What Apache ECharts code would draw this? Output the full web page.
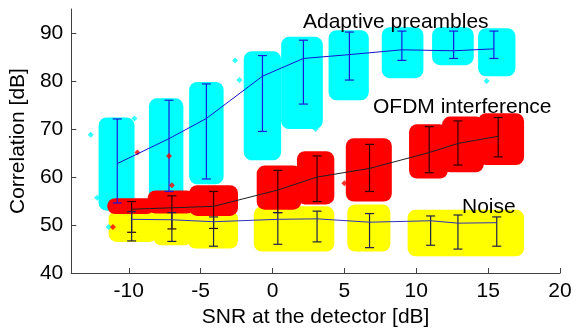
<!DOCTYPE html>
<html>
<head>
<meta charset="utf-8">
<script src="https://cdn.jsdelivr.net/npm/echarts@6/dist/echarts.min.js"></script>
<style>
  html, body { margin: 0; padding: 0; background: #fff; }
  #chart { width: 576px; height: 333px; }
</style>
</head>
<body>
<div id="chart"></div>
<script>
// axis ticks
const xTicks = [-10, -5, 0, 5, 10, 15, 20]
const yTicks = [40, 50, 60, 70, 80, 90]

// point clouds, each [xFrom, xTo, yFrom, yTo]
const cyanClouds = [
  [-12.1, -9.6, 53, 72.4], [-8.6, -6.2, 54, 76.4], [-5.8, -3.4, 58.5, 79.8],
  [-2.0, 0.6, 63.5, 86.2], [0.6, 3.5, 70, 89.2], [3.9, 6.7, 76, 90.6],
  [7.6, 10.5, 80.6, 91.2], [11.1, 14.0, 83.3, 91.2], [14.3, 16.9, 81, 91.0]
]
const yellowClouds = [
  [-11.4, -8.0, 46.5, 53], [-8.3, -5.6, 45.8, 53], [-5.9, -2.4, 45.1, 53],
  [-1.3, 4.3, 44.5, 53.9], [5.2, 8.2, 44.5, 54.3], [9.4, 17.5, 43.5, 53.2]
]
const redClouds = [
  [-11.5, -8.2, 52.3, 55.6], [-8.7, -5.4, 52.4, 57.2], [-5.8, -2.4, 51.9, 58.3],
  [-1.1, 2.0, 53.2, 62.4], [1.7, 4.3, 54.3, 65.4], [5.1, 8.3, 54.9, 68.1],
  [9.5, 12.2, 59.7, 71.0], [11.8, 14.7, 61.0, 72.6], [14.3, 17.5, 62.5, 73.3]
]

// stray points
const cyanStray = [[-12.65, 68.8], [-12.2, 55.7], [-11.4, 49.6], [-9.6, 72.2], [-2.6, 84.3],
  [-2.3, 80.2], [0.8, 71.9], [3.0, 70], [-1.5, 64], [2.9, 70.5], [14.9, 80], [16.4, 82.2]]
const redStray = [[-9.4, 65.1], [-7.2, 64.4], [-7.0, 58.3], [-11.1, 49.6], [5.0, 58.7],
  [9.8, 69.9], [15.0, 63.4]]

// Adaptive preambles
const cyanX = [-10.8, -7.2, -4.6, -0.7, 2.15, 5.35, 9.0, 12.6, 15.4]
const cyanMean = [62.8, 68, 72.2, 81, 84.7, 85.5, 86.5, 86.3, 86.7]
const cyanLow = [54.6, 57, 59.6, 69.5, 75.2, 80.2, 84.3, 84.7, 84.7]
const cyanHigh = [72.1, 76, 79.4, 85.3, 88.5, 90.2, 90.4, 90.4, 90.4]

// OFDM interference
const redX = [-9.8, -7.0, -4.1, 0.37, 3.1, 6.75, 10.9, 12.9, 15.7]
const redMean = [53.3, 53.6, 53.9, 57.3, 60, 61.8, 65.1, 67, 68.5]
const redLow = [48.5, 49.2, 49.3, 52.6, 54.9, 57, 60.9, 62.5, 64.2]
const redHigh = [54.9, 56.1, 57, 61.4, 64.4, 66.8, 70.5, 71.7, 72.4]

// Noise
const yellowX = [-9.8, -7.0, -4.1, 0.37, 3.1, 6.75, 11.0, 12.9, 15.6]
const yellowMean = [51.2, 51.1, 50.7, 51.2, 51.3, 50.6, 50.9, 50.4, 50.5]
const yellowLow = [46.7, 46.6, 45.6, 46, 46.5, 45.3, 45.8, 45, 45.6]
const yellowHigh = [52.8, 52.6, 51.7, 52.6, 52.9, 52.4, 51.9, 52.1, 51.7]

const font = "'Liberation Sans', Arial, sans-serif"

const cloudItem = (params, api) => {
  const a = api.coord([api.value(0), api.value(3)])
  const b = api.coord([api.value(1), api.value(2)])
  return {
    type: "rect",
    shape: { x: a[0], y: a[1], width: b[0] - a[0], height: b[1] - a[1], r: 8 },
    style: { fill: api.visual("color") },
  }
}

const barItem = (params, api) => {
  const lo = api.coord([api.value(0), api.value(1)])
  const hi = api.coord([api.value(0), api.value(2)])
  const stroke = { stroke: api.visual("color"), lineWidth: 1.2 }
  return {
    type: "group",
    children: [
      { type: "line", shape: { x1: lo[0], y1: lo[1], x2: hi[0], y2: hi[1] }, style: stroke },
      { type: "line", shape: { x1: lo[0] - 4.5, y1: lo[1], x2: lo[0] + 4.5, y2: lo[1] }, style: stroke },
      { type: "line", shape: { x1: hi[0] - 4.5, y1: hi[1], x2: hi[0] + 4.5, y2: hi[1] }, style: stroke },
    ],
  }
}

const cloud = (data, color) => ({
  type: "custom", renderItem: cloudItem, data, color, silent: true,
  encode: { x: [0, 1], y: [2, 3] },
})
const stray = (data, color) => ({
  type: "scatter", data, color, symbol: "diamond", symbolSize: 6, silent: true,
})
const meanLine = (xs, ys, color) => ({
  type: "line", data: xs.map((x, i) => [x, ys[i]]), color, symbol: "none",
  lineStyle: { width: 1, color }, silent: true,
})
const errBars = (xs, lo, hi, color) => ({
  type: "custom", renderItem: barItem, color, silent: true,
  data: xs.map((x, i) => [x, lo[i], hi[i]]),
  encode: { x: 0, y: [1, 2] },
})

const chart = echarts.init(document.getElementById("chart"), null, { renderer: "canvas" })

chart.setOption({
  animation: false,
  backgroundColor: "#fff",
  grid: { left: 70, right: 16, top: 9, bottom: 53 },
  xAxis: {
    type: "value", min: -14, max: 20,
    name: "SNR at the detector [dB]", nameLocation: "middle", nameGap: 25,
    nameTextStyle: { fontFamily: font, fontSize: 21, color: "#000" },
    axisLine: { onZero: false, lineStyle: { color: "#404040", width: 1 } },
    axisTick: { inside: true, length: 5, customValues: xTicks, lineStyle: { color: "#404040" } },
    axisLabel: { customValues: xTicks, fontFamily: font, fontSize: 21, color: "#000", margin: 8 },
    splitLine: { show: false },
  },
  yAxis: {
    type: "value", min: 40, max: 95,
    name: "Correlation [dB]", nameLocation: "middle", nameGap: 38,
    nameTextStyle: { fontFamily: font, fontSize: 21, color: "#000" },
    axisLine: { show: true, onZero: false, lineStyle: { color: "#404040", width: 1 } },
    axisTick: { show: true, inside: true, length: 5, customValues: yTicks, lineStyle: { color: "#404040" } },
    axisLabel: { customValues: yTicks, fontFamily: font, fontSize: 21, color: "#000", margin: 8 },
    splitLine: { show: false },
  },
  graphic: [
    { type: "text", z: 100, left: 303, top: 12, style: { text: "Adaptive preambles", font: "21px " + font, fill: "#000" } },
    { type: "text", z: 100, left: 373, top: 97, style: { text: "OFDM interference", font: "21px " + font, fill: "#000" } },
    { type: "text", z: 100, left: 462, top: 197, style: { text: "Noise", font: "21px " + font, fill: "#000" } },
  ],
  series: [
    cloud(cyanClouds, "#00ffff"),
    stray(cyanStray, "#00ffff"),
    cloud(yellowClouds, "#ffff00"),
    cloud(redClouds, "#ff0000"),
    stray(redStray, "#ff0000"),
    meanLine(cyanX, cyanMean, "#1515d0"),
    errBars(cyanX, cyanLow, cyanHigh, "#1a1ad8"),
    meanLine(redX, redMean, "#202020"),
    errBars(redX, redLow, redHigh, "#300000"),
    meanLine(yellowX, yellowMean, "#3030c0"),
    errBars(yellowX, yellowLow, yellowHigh, "#202050"),
  ],
})
</script>
</body>
</html>
